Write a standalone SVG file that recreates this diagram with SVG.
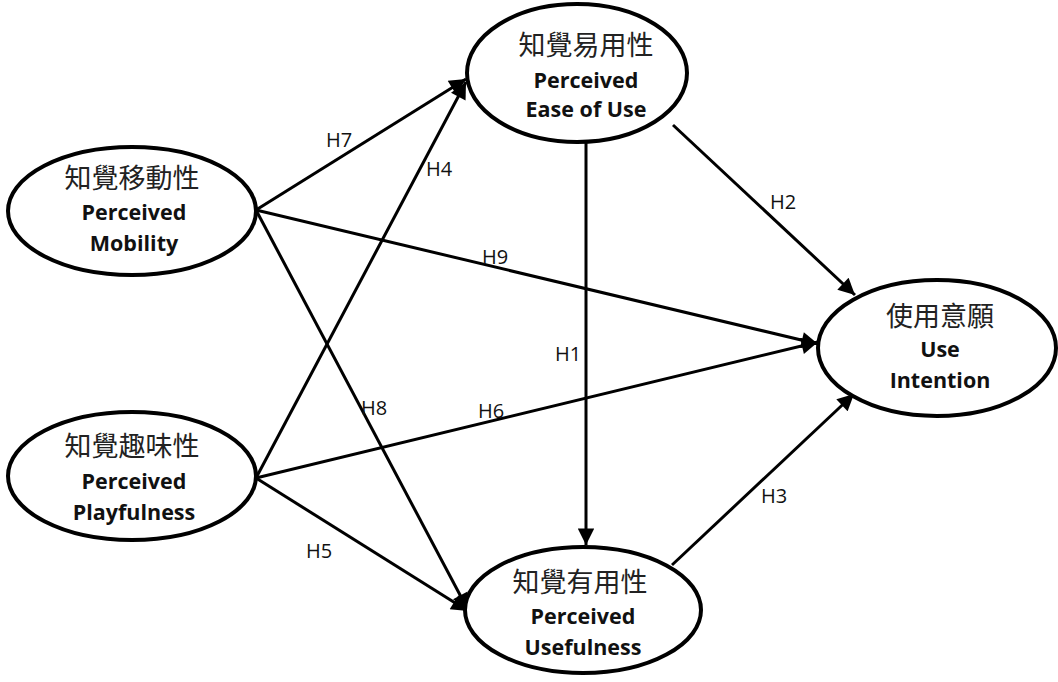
<svg xmlns="http://www.w3.org/2000/svg" width="1058" height="682" viewBox="0 0 1058 682">
  <defs>
    <marker id="arrow" viewBox="0 0 10 10" refX="10" refY="5" markerWidth="6" markerHeight="5.5" markerUnits="strokeWidth" orient="auto">
      <path d="M0,0 L10,5 L0,10 z" fill="#000"/>
    </marker>
  </defs>
  <style>
    .node ellipse { fill: #fff; stroke: #000; stroke-width: 4; }
    .zh { font-family: "Noto Sans CJK TC", "Noto Sans CJK SC", serif; font-size: 27px; fill: #222; text-anchor: middle; }
    .en { font-family: "Open Sans", "Liberation Sans", sans-serif; font-weight: bold; font-size: 21.5px; fill: #111; text-anchor: middle; }
    .edges line { stroke: #000; stroke-width: 3; marker-end: url(#arrow); }
    .lbl { font-family: "Open Sans", "Liberation Sans", sans-serif; font-size: 20px; fill: #111; }
  </style>
  <rect width="1058" height="682" fill="#fff"/>

  <g id="connectors" class="edges">
    <line x1="256" y1="210" x2="466" y2="79"/>
    <line x1="256" y1="478" x2="466" y2="82"/>
    <line x1="256" y1="210" x2="818" y2="344"/>
    <line x1="256" y1="210" x2="468" y2="610"/>
    <line x1="256" y1="478" x2="818" y2="342"/>
    <line x1="256" y1="478" x2="468" y2="611"/>
    <line x1="586" y1="143" x2="586" y2="545"/>
    <line x1="673" y1="125" x2="855" y2="295"/>
    <line x1="672" y1="565" x2="854" y2="394"/>
  </g>

  <g id="edge-labels">
    <text class="lbl" x="326" y="147">H7</text>
    <text class="lbl" x="426" y="176">H4</text>
    <text class="lbl" x="770" y="209">H2</text>
    <text class="lbl" x="482" y="264">H9</text>
    <text class="lbl" x="555" y="361">H1</text>
    <text class="lbl" x="361" y="415">H8</text>
    <text class="lbl" x="478" y="418">H6</text>
    <text class="lbl" x="761" y="503">H3</text>
    <text class="lbl" x="306" y="558">H5</text>
  </g>

  <g id="node-mobility" class="node">
    <ellipse cx="132" cy="211" rx="124" ry="64"/>
    <text class="zh" x="132" y="188">知覺移動性</text>
    <text class="en" x="134" y="220">Perceived</text>
    <text class="en" x="134" y="251">Mobility</text>
  </g>

  <g id="node-playfulness" class="node">
    <ellipse cx="132" cy="476" rx="124" ry="64"/>
    <text class="zh" x="132" y="456">知覺趣味性</text>
    <text class="en" x="134" y="489">Perceived</text>
    <text class="en" x="134" y="520">Playfulness</text>
  </g>

  <g id="node-ease" class="node">
    <ellipse cx="577" cy="73" rx="110" ry="69"/>
    <text class="zh" x="586" y="55">知覺易用性</text>
    <text class="en" x="586" y="88">Perceived</text>
    <text class="en" x="586" y="117">Ease of Use</text>
  </g>

  <g id="node-usefulness" class="node">
    <ellipse cx="583" cy="610" rx="118" ry="63"/>
    <text class="zh" x="580" y="592">知覺有用性</text>
    <text class="en" x="583" y="624">Perceived</text>
    <text class="en" x="583" y="655">Usefulness</text>
  </g>

  <g id="node-intention" class="node">
    <ellipse cx="937" cy="348" rx="119" ry="68"/>
    <text class="zh" x="940" y="326">使用意願</text>
    <text class="en" x="940" y="357">Use</text>
    <text class="en" x="940" y="388">Intention</text>
  </g>
</svg>
